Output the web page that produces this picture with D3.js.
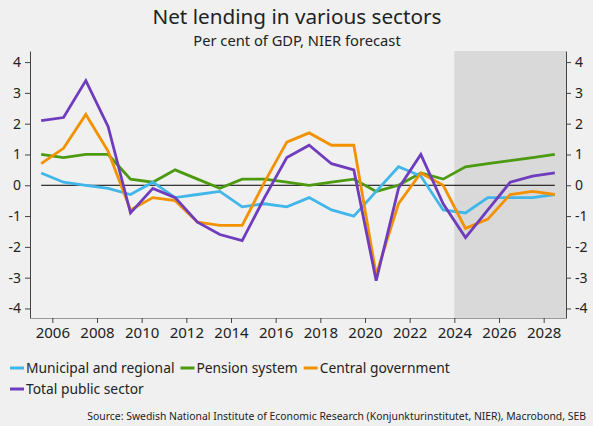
<!DOCTYPE html>
<html>
<head>
<meta charset="utf-8">
<script src="https://cdn.jsdelivr.net/npm/d3@7/dist/d3.min.js"></script>
<style>
  body { margin: 0; background: #f0f0f0; }
  svg { display: block; }
  text { font-family: "Noto Sans", "Open Sans", sans-serif; fill: #222; }
</style>
</head>
<body>
<svg id="chart" width="593" height="426"></svg>
<script>
// Annual net lending, per cent of GDP (2024 onwards: NIER forecast)
const years = [2005, 2006, 2007, 2008, 2009, 2010, 2011, 2012, 2013, 2014, 2015, 2016,
               2017, 2018, 2019, 2020, 2021, 2022, 2023, 2024, 2025, 2026, 2027, 2028];
const municipal = [0.4, 0.1, 0.0, -0.1, -0.3, 0.1, -0.4, -0.3, -0.2, -0.7, -0.6, -0.7,
                   -0.4, -0.8, -1.0, -0.2, 0.6, 0.3, -0.8, -0.9, -0.4, -0.4, -0.4, -0.3];
const pension = [1.0, 0.9, 1.0, 1.0, 0.2, 0.1, 0.5, 0.2, -0.1, 0.2, 0.2, 0.1,
                 0.0, 0.1, 0.2, -0.2, 0.0, 0.4, 0.2, 0.6, 0.7, 0.8, 0.9, 1.0];
const central = [0.7, 1.2, 2.3, 1.1, -0.8, -0.4, -0.5, -1.2, -1.3, -1.3, 0.1, 1.4,
                 1.7, 1.3, 1.3, -2.9, -0.6, 0.4, 0.0, -1.4, -1.1, -0.3, -0.2, -0.3];
const total = [2.1, 2.2, 3.4, 1.9, -0.9, -0.1, -0.4, -1.2, -1.6, -1.8, -0.4, 0.9,
               1.3, 0.7, 0.5, -3.1, -0.1, 1.0, -0.6, -1.7, -0.8, 0.1, 0.3, 0.4];

const seriesNames = ["Municipal and regional", "Pension system", "Central government", "Total public sector"];
const seriesColors = ["#41b6ea", "#4c9a10", "#f39200", "#6f3cbd"];
const seriesValues = [municipal, pension, central, total];
// drawing order: later series sit on top
const drawOrder = [1, 0, 2, 3];

const xTicks = [2006, 2008, 2010, 2012, 2014, 2016, 2018, 2020, 2022, 2024, 2026, 2028];
const yTicks = [-4, -3, -2, -1, 0, 1, 2, 3, 4];
const forecastStart = 2024;

const plot = { left: 30, right: 566, top: 51, bottom: 318 };

const svg = d3.select("#chart");

const x = d3.scaleLinear().domain([2005, 2029]).range([plot.left, plot.right]);
const y = d3.scaleLinear().domain([-4.31, 4.36]).range([plot.bottom, plot.top]);

// forecast shading
svg.append("rect")
  .attr("x", x(forecastStart))
  .attr("y", plot.top)
  .attr("width", x.range()[1] - x(forecastStart))
  .attr("height", plot.bottom - plot.top)
  .attr("fill", "#d9d9d9");

// axes
const axisColor = "#444";
const styleAxis = g => {
  g.select(".domain").attr("stroke", axisColor).attr("stroke-width", 1);
  g.selectAll(".tick line").attr("stroke", axisColor);
  g.selectAll(".tick text").attr("fill", "#222").style("font-family", '"Noto Sans", sans-serif');
};

const fmtY = d => (d < 0 ? "-" + Math.abs(d) : String(d));

svg.append("g")
  .attr("transform", `translate(${plot.left},0)`)
  .call(d3.axisLeft(y).tickValues(yTicks).tickFormat(fmtY).tickSize(5).tickSizeOuter(0).tickPadding(4))
  .call(styleAxis)
  .selectAll(".tick text").style("font-size", "14px");

svg.append("g")
  .attr("transform", `translate(${plot.right},0)`)
  .call(d3.axisRight(y).tickValues(yTicks).tickFormat(fmtY).tickSize(5).tickSizeOuter(0).tickPadding(4))
  .call(styleAxis)
  .selectAll(".tick text").style("font-size", "14px");

svg.append("g")
  .attr("transform", `translate(0,${plot.bottom})`)
  .call(d3.axisBottom(x).tickValues(xTicks).tickFormat(d3.format("d")).tickSize(5).tickSizeOuter(0).tickPadding(4))
  .call(styleAxis)
  .call(g => g.select(".domain").attr("stroke", "#999"))
  .selectAll(".tick text").style("font-size", "15px");

// zero line across the data span
svg.append("line")
  .attr("x1", x(years[0] + 0.5))
  .attr("x2", x(years[years.length - 1] + 0.5))
  .attr("y1", y(0))
  .attr("y2", y(0))
  .attr("stroke", "#000")
  .attr("stroke-width", 1);

// series lines (annual values plotted at mid-year)
const line = d3.line()
  .x((d, i) => x(years[i] + 0.5))
  .y(d => y(d));

drawOrder.forEach(k => {
  svg.append("path")
    .datum(seriesValues[k])
    .attr("d", line)
    .attr("fill", "none")
    .attr("stroke", seriesColors[k])
    .attr("stroke-width", 2.8)
    .attr("stroke-linejoin", "miter");
});

// titles
svg.append("text")
  .attr("x", 297).attr("y", 24)
  .attr("text-anchor", "middle")
  .style("font-size", "20.7px")
  .text("Net lending in various sectors");

svg.append("text")
  .attr("x", 297).attr("y", 46)
  .attr("text-anchor", "middle")
  .style("font-size", "14.7px")
  .text("Per cent of GDP, NIER forecast");

// legend
const legendRows = [[0, 1, 2], [3]];
const legendRowY = [368, 389];
legendRows.forEach((row, r) => {
  let cx = 10;
  row.forEach(k => {
    const g = svg.append("g").attr("transform", `translate(${cx},${legendRowY[r]})`);
    g.append("line")
      .attr("x1", 0).attr("x2", 14)
      .attr("y1", 0).attr("y2", 0)
      .attr("stroke", seriesColors[k])
      .attr("stroke-width", 3);
    const t = g.append("text")
      .attr("x", 16).attr("y", 5)
      .style("font-size", "13.8px")
      .text(seriesNames[k]);
    cx += 16 + t.node().getComputedTextLength() + 6;
  });
});

// source
svg.append("text")
  .attr("x", 586).attr("y", 420)
  .attr("text-anchor", "end")
  .style("font-size", "10.4px")
  .text("Source: Swedish National Institute of Economic Research (Konjunkturinstitutet, NIER), Macrobond, SEB");
</script>
</body>
</html>
